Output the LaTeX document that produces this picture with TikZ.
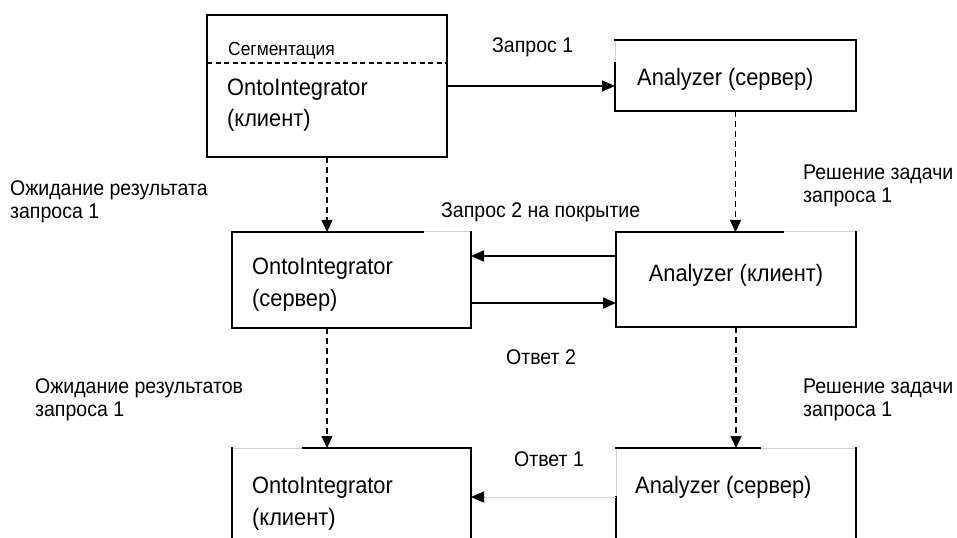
\documentclass[tikz,border=0pt]{standalone}
\usepackage{fontspec}
\setmainfont{Liberation Sans}[FakeStretch=0.92]
\usetikzlibrary{arrows.meta,calc}
\definecolor{faint}{gray}{0.82}
\begin{document}
\begin{tikzpicture}[x=1bp,y=-1bp,
  frame/.style={draw=faint, line width=1bp, rectangle, inner sep=0pt, outer sep=0pt, anchor=north west},
  edge/.style={line width=1.6bp, line cap=rect},
  flow/.style={line width=1.6bp, -{Triangle[length=13bp,width=11bp]}},
  wait/.style={line width=1.5bp, dash pattern=on 6bp off 4bp, -{Triangle[length=12bp,width=11bp]}},
  big/.style={font=\fontsize{23.8}{28}\selectfont, anchor=base west, inner sep=0pt},
  lbl/.style={font=\fontsize{21.3}{25}\selectfont, anchor=base west, inner sep=0pt},
  tiny/.style={font=\fontsize{19}{22}\selectfont, anchor=base west, inner sep=0pt},
]
\clip (0,0) rectangle (957,538);
\fill[white] (0,0) rectangle (957,538);

% boxes
\node[frame, draw=black, line width=2.6bp, minimum width=240bp, minimum height=142bp] (tl) at (207,15) {};
\node[frame, minimum width=241bp, minimum height=71bp] (tr) at (615,40) {};
\node[frame, minimum width=239bp, minimum height=96bp] (ml) at (232,232) {};
\node[frame, minimum width=240bp, minimum height=95bp] (mr) at (616,232) {};
\node[frame, minimum width=239bp, minimum height=130bp] (bl) at (232,448) {};
\node[frame, minimum width=240bp, minimum height=130bp] (br) at (616,448) {};

% solid parts of the box outlines
\draw[edge] ($(tr.north west)+(0,23)$) -- (tr.south west) -- (tr.south east) -- (tr.north east) -- (tr.north west);
\draw[edge] ($(ml.north west)+(191,0)$) -- (ml.north west) -- (ml.south west) -- (ml.south east) -- (ml.north east);
\draw[edge] ($(mr.north west)+(167,0)$) -- (mr.north west) -- (mr.south west) -- (mr.south east) -- (mr.north east);
\draw[edge] (bl.south west) -- (bl.north west);
\draw[edge] ($(bl.north west)+(71,0)$) -- (bl.north east) -- (bl.south east);
\draw[edge] ($(br.north west)+(144,0)$) -- (br.north west);
\draw[edge] ($(br.north west)+(0,49)$) -- (br.south west);
\draw[edge] (br.north east) -- (br.south east);

% segmentation divider
\draw[line width=1.4bp, dash pattern=on 5bp off 3.5bp] ($(tl.north west)+(0,48)$) -- ($(tl.north east)+(0,48)$);

% box texts
\node[tiny] (seg) at (228,56) {Сегментация};
\node[big] (t1a) at (227,96) {OntoIntegrator};
\node[big] (t1b) at (227,127) {(клиент)};
\node[big] (t2) at (637,86) {Analyzer (сервер)};
\node[big] (t3a) at (252,275) {OntoIntegrator};
\node[big] (t3b) at (252,307) {(сервер)};
\node[big, anchor=base] (t4) at (736,282) {Analyzer (клиент)};
\node[big] (t5a) at (252,493) {OntoIntegrator};
\node[big] (t5b) at (252,525) {(клиент)};
\node[big] (t6) at (635,493) {Analyzer (сервер)};

% messages
\draw[flow] (tl.east) -- (tl.east -| tr.west);
\coordinate (q2) at ($(mr.west)+(0,-23.5)$);
\draw[flow] (q2) -- (q2 -| ml.east);
\coordinate (a2) at ($(ml.east)+(0,23)$);
\draw[flow] (a2) -- (a2 -| mr.west);
\coordinate (a1) at ($(br.north west)+(0,49)$);
\draw[line width=1bp, draw=faint, -{Triangle[length=13bp,width=11bp,color=black]}] (a1) -- (a1 -| bl.east);

% waiting / processing
\draw[wait] (tl.south) -- (tl.south |- ml.north);
\draw[wait] (tr.south) -- (tr.south |- mr.north);
\draw[wait] (tl.south |- ml.south) -- (tl.south |- bl.north);
\draw[wait] (mr.south) -- (mr.south |- br.north);

% labels
\node[lbl] (l1) at (492,53) {Запрос 1};
\node[lbl] (l2) at (441,218) {Запрос 2 на покрытие};
\node[lbl] (l3) at (506,365) {Ответ 2};
\node[lbl] (l4) at (514,466) {Ответ 1};
\node[lbl] (w1a) at (10,196) {Ожидание результата};
\node[lbl] (w1b) at (10,219) {запроса 1};
\node[lbl] (w2a) at (35,393) {Ожидание результатов};
\node[lbl] (w2b) at (35,416) {запроса 1};
\node[lbl] (r1a) at (803,180) {Решение задачи};
\node[lbl] (r1b) at (803,203) {запроса 1};
\node[lbl] (r2a) at (803,393) {Решение задачи};
\node[lbl] (r2b) at (803,416) {запроса 1};
\end{tikzpicture}
\end{document}
